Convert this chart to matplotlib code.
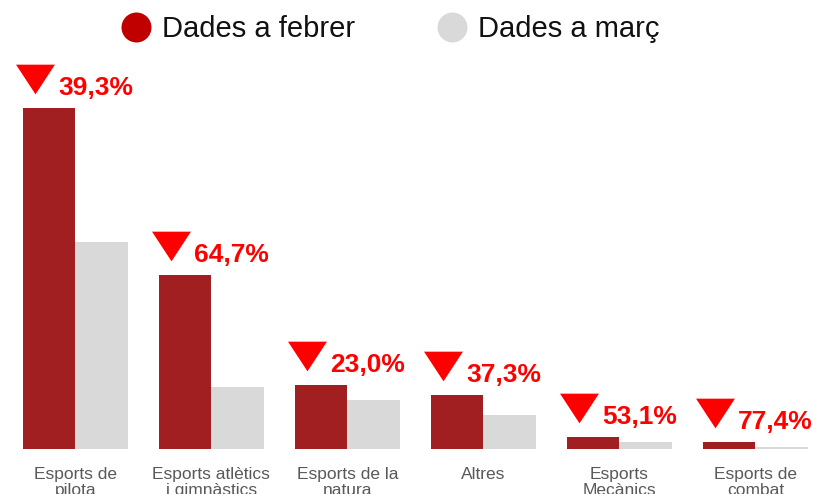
import matplotlib
matplotlib.use("Agg")
import matplotlib.pyplot as plt
import matplotlib.transforms as mtransforms
from matplotlib.lines import Line2D

plt.rcParams['font.family'] = ['Liberation Sans', 'DejaVu Sans']

# data (bar heights, arbitrary units)
categories = ["Esports de\npilota", "Esports atlètics\ni gimnàstics", "Esports de la\nnatura",
              "Altres", "Esports\nMecànics", "Esports de\ncombat"]
febrer = [341, 174, 64, 53.5, 11.8, 6.4]
marc = [207, 61.5, 49, 33.5, 6.2, 1.6]
caiguda = ["39,3%", "64,7%", "23,0%", "37,3%", "53,1%", "77,4%"]

red_bar = "#A21F21"
grey_bar = "#D9D9D9"
red_dot = "#C00000"
red_txt = "#FF0000"

W, H = 813, 494
fig = plt.figure(figsize=(W / 100, H / 100), dpi=100)
base = 448.5
ax = fig.add_axes([0, (H - base) / H, 1, base / H])

w = 0.3875
x = list(range(len(categories)))
ax.bar([i - w / 2 for i in x], febrer, width=w, color=red_bar, linewidth=0)
ax.bar([i + w / 2 for i in x], marc, width=w, color=grey_bar, linewidth=0)

ax.set_xlim(-75.4 / 136, (W - 75.4) / 136)
ax.set_ylim(0, base)
ax.set_xticks(x)
ax.set_xticklabels(categories, fontsize=12.5, color="#595959", linespacing=1.05)
ax.tick_params(axis="x", length=0, pad=13.5)
ax.set_yticks([])
for s in ax.spines.values():
    s.set_visible(False)

# down arrows + percent labels
tri = [(-19, 14.5), (19, 14.5), (0, -14.5)]
for i, v in enumerate(febrer):
    xc = i - w / 2
    tr = mtransforms.offset_copy(ax.transData, fig=fig, x=-14, y=29, units="dots")
    ax.plot([xc], [v], marker=tri, markersize=28, color=red_txt,
            markeredgewidth=0, transform=tr, clip_on=False)
    ax.annotate(caiguda[i], xy=(xc, v), xytext=(9, 13), textcoords="offset pixels",
                fontsize=19, fontweight="bold", color=red_txt,
                ha="left", va="baseline", annotation_clip=False)

handles = [Line2D([], [], linestyle="none", marker="o", markersize=21.6,
                  markerfacecolor=red_dot, markeredgewidth=0),
           Line2D([], [], linestyle="none", marker="o", markersize=21.6,
                  markerfacecolor=grey_bar, markeredgewidth=0)]
fig.legend(handles, ["Dades a febrer", "Dades a març"], ncol=2, frameon=False,
           fontsize=21, labelcolor="#111111", handlelength=1.0, handletextpad=0.4,
           columnspacing=2.8, borderpad=0, borderaxespad=0,
           loc="center left", bbox_to_anchor=(121.5 / W, 1 - 29 / H))

fig.savefig("out.png", dpi=100)
